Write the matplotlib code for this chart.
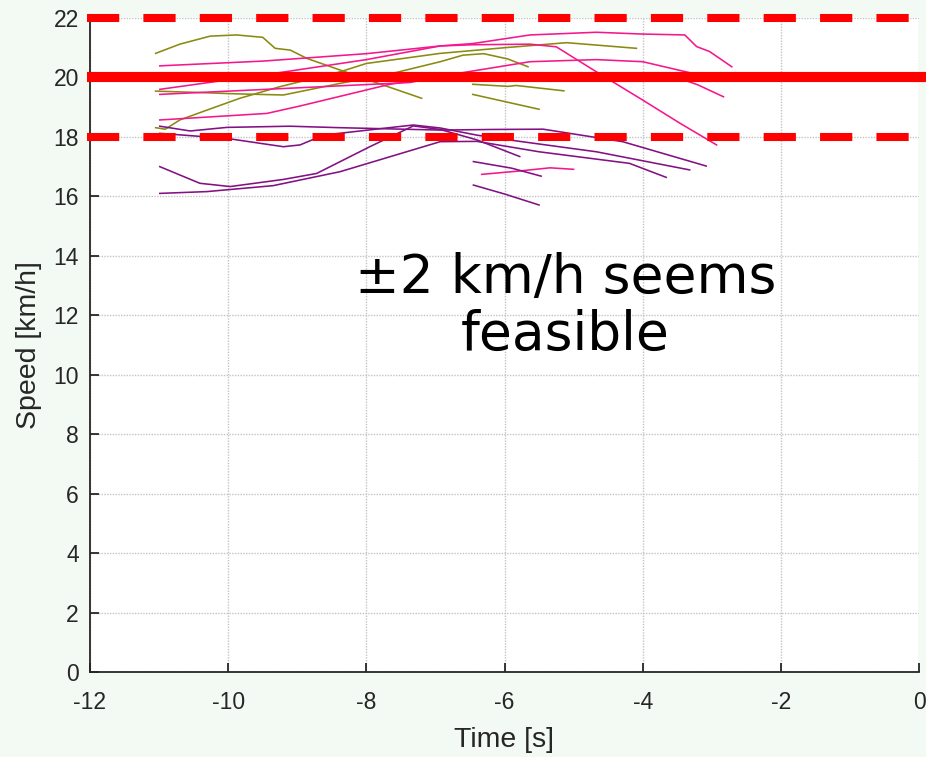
import matplotlib
matplotlib.use("Agg")
import matplotlib.pyplot as plt

plt.rcParams["axes.unicode_minus"] = False

# Speed traces [km/h] vs time before event [s], grouped by rider
olive_runs = [
    ([-11.05, -10.70, -10.26, -9.88, -9.50, -9.32, -9.10, -8.86, -8.38, -7.90, -7.20],
     [20.81, 21.12, 21.39, 21.43, 21.35, 20.98, 20.92, 20.64, 20.25, 19.86, 19.30]),
    ([-11.05, -10.50, -9.90, -9.20, -8.38, -7.60, -6.93, -6.60, -6.30, -5.95, -5.66],
     [19.54, 19.50, 19.45, 19.41, 19.80, 20.15, 20.53, 20.75, 20.80, 20.62, 20.36]),
    ([-11.05, -10.91, -10.70, -10.31, -9.83, -9.25, -8.38, -8.00, -6.93, -6.00, -5.10, -4.09],
     [18.31, 18.26, 18.57, 18.90, 19.30, 19.69, 20.19, 20.47, 20.81, 21.00, 21.17, 20.98]),
    ([-6.46, -5.95, -5.83, -5.14],
     [19.77, 19.70, 19.73, 19.55]),
    ([-6.46, -5.98, -5.50],
     [19.43, 19.18, 18.93]),
]

pink_runs = [
    ([-10.99, -9.50, -8.00, -6.93, -6.46, -5.63, -4.67, -4.00, -3.39, -3.22, -3.03, -2.71],
     [20.39, 20.55, 20.80, 21.06, 21.14, 21.43, 21.52, 21.46, 21.43, 21.04, 20.87, 20.36]),
    ([-10.99, -9.35, -8.00, -6.93, -6.46, -5.63, -5.25, -4.67, -4.00, -3.46, -2.93],
     [19.60, 20.13, 20.60, 21.06, 21.10, 21.12, 21.03, 20.19, 19.24, 18.46, 17.73]),
    ([-10.99, -9.00, -7.37, -6.69, -5.63, -4.67, -4.00, -3.30, -3.15],
     [19.43, 19.65, 19.83, 20.13, 20.53, 20.60, 20.53, 20.15, 20.00]),
    ([-10.99, -9.44, -8.96, -7.66, -7.00, -6.00, -5.00, -4.00, -3.60, -3.20, -2.83],
     [18.57, 18.79, 19.04, 19.77, 20.00, 20.10, 20.12, 20.12, 20.08, 19.75, 19.35]),
    ([-6.33, -5.80, -5.34, -5.00],
     [16.74, 16.85, 16.96, 16.91]),
]

purple_runs = [
    ([-10.99, -10.55, -10.02, -9.11, -8.38, -6.93, -6.20, -5.44, -4.29, -3.08],
     [18.36, 18.20, 18.32, 18.36, 18.31, 18.23, 18.25, 18.26, 17.84, 17.02]),
    ([-10.99, -10.02, -9.20, -8.96, -8.62, -7.90, -7.32, -6.93, -6.40, -5.78, -4.67, -3.32],
     [18.12, 17.95, 17.67, 17.73, 18.06, 18.25, 18.40, 18.30, 18.06, 17.85, 17.50, 16.89]),
    ([-10.99, -10.41, -9.97, -9.20, -8.72, -7.95, -7.32, -6.93, -6.40, -5.78],
     [17.00, 16.44, 16.33, 16.57, 16.77, 17.67, 18.37, 18.25, 17.90, 17.34]),
    ([-10.99, -10.31, -9.35, -8.38, -6.93, -6.40, -5.50, -4.19, -3.66],
     [16.10, 16.16, 16.36, 16.83, 17.84, 17.85, 17.50, 17.11, 16.64]),
    ([-6.45, -5.90, -5.47],
     [17.17, 16.95, 16.68]),
    ([-6.45, -6.00, -5.50],
     [16.38, 16.08, 15.71]),
]

target_speed = 20
tolerance = 2
x_ticks = [-12, -10, -8, -6, -4, -2, 0]
y_ticks = [0, 2, 4, 6, 8, 10, 12, 14, 16, 18, 20, 22]

bg = "#f3f9f3"
fig = plt.figure(figsize=(9.26, 7.57), dpi=100, facecolor=bg)
ax = fig.add_axes([90 / 926, 1 - 672 / 757, 829 / 926, 654 / 757])
ax.set_facecolor("white")

for runs, color in ((olive_runs, "#8a8a10"), (pink_runs, "#f5178c"), (purple_runs, "#821184")):
    for t, v in runs:
        ax.plot(t, v, color=color, lw=1.15, zorder=3)

# target speed and tolerance band
x_span = [-12.05, 0.12]
ax.plot(x_span, [target_speed] * 2, color="red", lw=7.3,
        solid_capstyle="butt", clip_on=False, zorder=5)
for lvl in (target_speed - tolerance, target_speed + tolerance):
    ax.plot(x_span, [lvl] * 2, color="red", lw=5.8, dashes=(4, 3),
            dash_capstyle="butt", clip_on=False, zorder=5)

ax.text(-5.12, 12.3, "±2 km/h seems\nfeasible", fontsize=38.5, ha="center",
        va="center", family="DejaVu Sans", linespacing=1.12, color="black", zorder=6)

ax.set_xlim(-12, 0)
ax.set_ylim(0, 22)
ax.set_xticks(x_ticks)
ax.set_yticks(y_ticks)
ax.grid(True, color="#c4c4c4", linestyle=(0, (1, 1)), lw=1.0, zorder=0)
ax.set_axisbelow(True)

for side in ("top", "right"):
    ax.spines[side].set_visible(False)
for side in ("left", "bottom"):
    ax.spines[side].set_color("#262626")
    ax.spines[side].set_linewidth(1.3)

ax.tick_params(axis="both", direction="in", length=6.5, width=1.3,
               colors="#262626", labelcolor="#262626")
ax.tick_params(axis="x", pad=14)
ax.tick_params(axis="y", pad=8)
for lab in ax.get_xticklabels() + ax.get_yticklabels():
    lab.set_fontfamily("Liberation Sans")
    lab.set_fontsize(16.5)

ax.set_xlabel("Time [s]", family="Liberation Sans", fontsize=20.5,
              color="#262626", labelpad=9)
ax.set_ylabel("Speed [km/h]", family="Liberation Sans", fontsize=20.5,
              color="#262626", labelpad=8)

fig.savefig("out.png", dpi=100, facecolor=bg)
